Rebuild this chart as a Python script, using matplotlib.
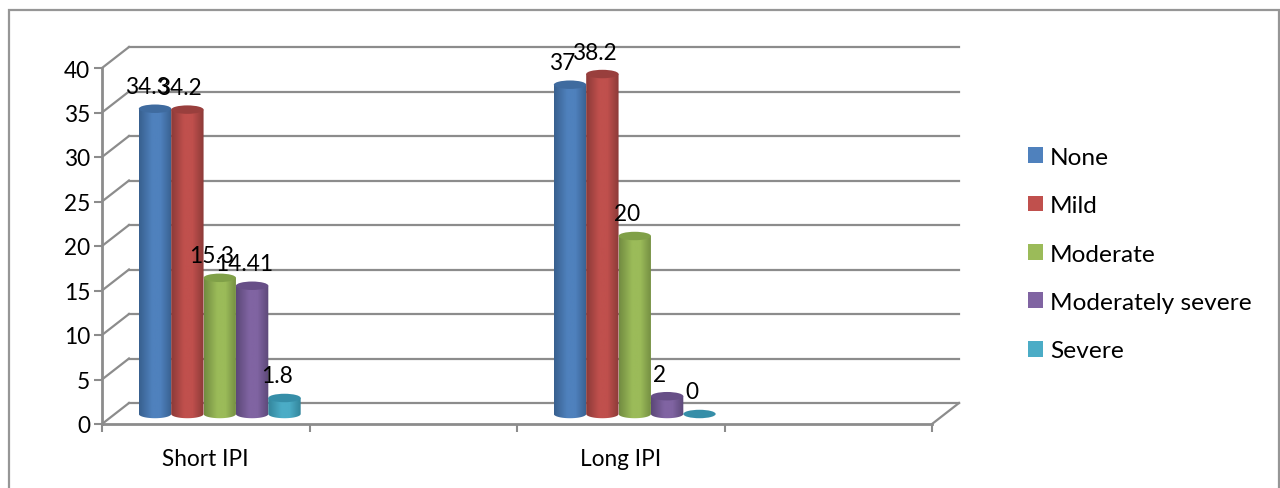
import numpy as np
import matplotlib
matplotlib.use("Agg")
import matplotlib.pyplot as plt
from matplotlib.patches import Ellipse, PathPatch, Patch, Rectangle
from matplotlib.path import Path
from matplotlib.transforms import Affine2D
from matplotlib.colors import LinearSegmentedColormap

plt.rcParams['font.family'] = ['Lato', 'DejaVu Sans']

categories = ["Short IPI", "", "Long IPI", ""]
series_names = ["None", "Mild", "Moderate", "Moderately severe", "Severe"]
short_ipi = [34.3, 34.2, 15.3, 14.41, 1.8]
long_ipi = [37, 38.2, 20, 2, 0]
y_ticks = [0, 5, 10, 15, 20, 25, 30, 35, 40]

colors = ["#4f81bd", "#c0504d", "#9bbb59", "#8064a2", "#4bacc6"]
dark = ["#38608f", "#8c3a38", "#728c41", "#5c4878", "#33859b"]
tops = ["#3f6b9f", "#993f3d", "#80a048", "#674f87", "#368ea8"]

GRID = "#8c8c8c"
W, H = 1280, 489
bar_w = 0.156
ell_h = 0.95  # height of the cylinder caps, in axis units

fig = plt.figure(figsize=(W / 100, H / 100), dpi=100)
fig.patch.set_facecolor("white")

# chart border
fig.add_artist(Rectangle((8.5 / W, -5 / H), 1270.5 / W, (H - 10.5 + 5) / H, transform=fig.transFigure,
                         fill=False, edgecolor="#969696", linewidth=1.6))

# front plane of the 3d box
ax = fig.add_axes([102 / W, (H - 425) / H, (932 - 102) / W, (425 - 69) / H])
ax.set_facecolor("none")
for s in ax.spines.values():
    s.set_visible(False)
ax.set_xlim(0, 4)
ax.set_ylim(0, 40)

back = ax.transData + Affine2D().translate(27, 21)
mid = ax.transData + Affine2D().translate(14, 10)


def depth_line(x, v):
    p0 = ax.transData.transform((x, v))
    p1 = back.transform((x, v))
    ax.plot([p0[0], p1[0]], [p0[1], p1[1]], transform=None, color=GRID, lw=1.6,
            clip_on=False, zorder=1)


# back wall, left wall and floor
for v in y_ticks:
    ax.plot([0, 4], [v, v], transform=back, color=GRID, lw=1.6, clip_on=False, zorder=1)
    depth_line(0, v)
depth_line(4, 0)
ax.plot([0, 4], [0, 0], color=GRID, lw=2, clip_on=False, zorder=1)
ax.plot([0, 0], [0, 40], color=GRID, lw=2, clip_on=False, zorder=1)


def draw_cylinder(x, value, i):
    left, right = x - bar_w / 2, x + bar_w / 2
    if value > 0:
        cmap = LinearSegmentedColormap.from_list(
            "c", [(0, dark[i]), (0.4, colors[i]), (0.65, colors[i]), (1, dark[i])], N=64)
        grad = np.linspace(0, 1, 64).reshape(1, -1)
        t = np.linspace(np.pi, 2 * np.pi, 30)
        xs = list(x + bar_w / 2 * np.cos(t)) + [right, left, left]
        ys = list(ell_h / 2 * np.sin(t)) + [value, value, 0]
        codes = [Path.MOVETO] + [Path.LINETO] * (len(xs) - 2) + [Path.CLOSEPOLY]
        clip = PathPatch(Path(np.column_stack([xs, ys]), codes), transform=mid,
                         facecolor="none", edgecolor="none")
        ax.add_patch(clip)
        im = ax.imshow(grad, cmap=cmap, aspect="auto", zorder=3 + i,
                       extent=(left, right, -ell_h, value))
        im.set_transform(mid)
        im.set_clip_path(clip)
    cap = Ellipse((x, value), bar_w, ell_h, transform=mid, facecolor=tops[i],
                  edgecolor="none", zorder=3 + i, clip_on=False)
    ax.add_patch(cap)


for c, values in [(0.5, short_ipi), (2.5, long_ipi)]:
    for i, v in enumerate(values):
        x = c + (i - 2) * bar_w
        draw_cylinder(x, v, i)
        ax.annotate(f"{v:g}", (x, v), xytext=(6, 32), textcoords="offset pixels",
                    ha="center", va="center", fontsize=16.3, color="black",
                    zorder=10, annotation_clip=False)

ax.set_xlim(0, 4)
ax.set_ylim(0, 40)

ax.set_xticks(range(5))
ax.set_xticklabels([])
ax.set_xticks(np.arange(4) + 0.5, labels=categories, minor=True)
ax.tick_params(axis="x", which="major", length=6, width=1.5, color=GRID)
ax.tick_params(axis="x", which="minor", length=0, pad=17, labelsize=16.3)
ax.set_yticks(y_ticks)
ax.tick_params(axis="y", length=6, width=1.5, color=GRID, pad=2.5, labelsize=16.3)

handles = [Patch(facecolor=c, edgecolor="none") for c in colors]
fig.legend(handles, series_names, loc="center left", bbox_to_anchor=(1028 / W, (H - 255) / H),
           frameon=False, fontsize=17.6, handlelength=0.62, handleheight=0.62,
           handletextpad=0.29, labelspacing=1.12, borderpad=0, borderaxespad=0)

fig.savefig("out.png", dpi=100)
